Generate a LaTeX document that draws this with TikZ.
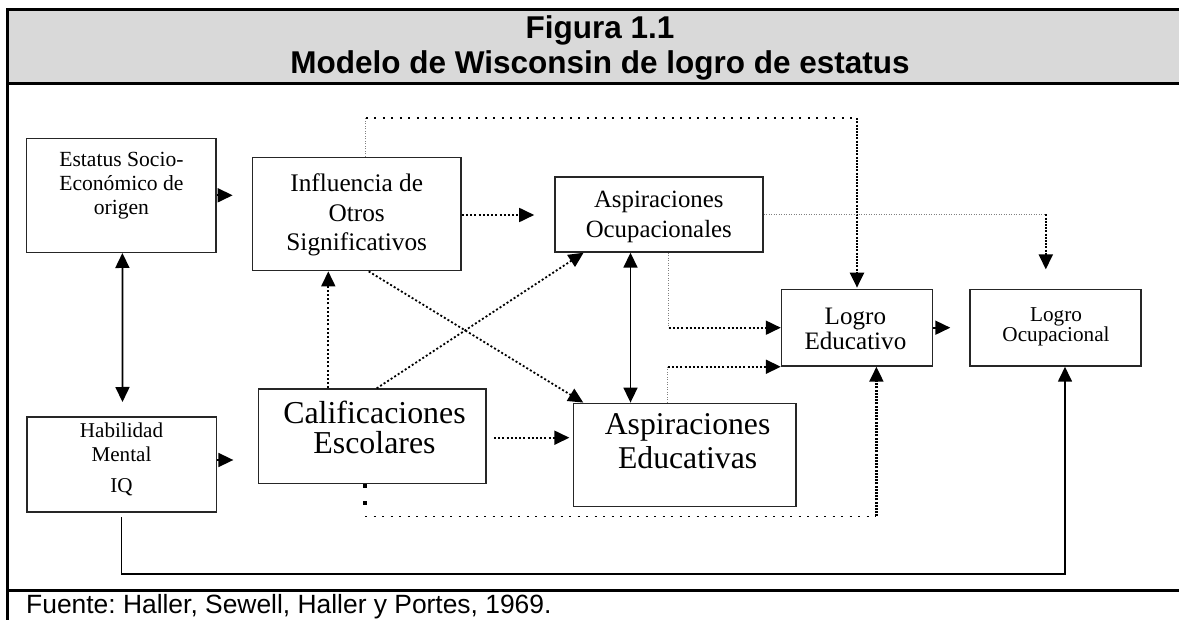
\documentclass[tikz,border=0pt]{standalone}
\usepackage{fontspec}
\setmainfont{Liberation Serif}
\newfontfamily\headfont{Liberation Sans}
\usetikzlibrary{arrows.meta}
\frenchspacing
\definecolor{headgray}{RGB}{217,217,217}
\tikzset{
  box/.style={draw=black!85, line width=1.4pt, inner sep=0pt},
  txt/.style={align=center, inner sep=0pt},
  tip/.style={-{Triangle[length=15pt,width=14pt]}},
  tips/.style={{Triangle[length=15pt,width=14pt]}-{Triangle[length=15pt,width=14pt]}},
  plainline/.style={line width=1.7pt},
  dotline/.style={line width=1.8pt, dash pattern=on 2pt off 2.2pt},
  sparseline/.style={line width=1.8pt, dash pattern=on 2pt off 6.5pt},
  denseline/.style={line width=2.2pt, dash pattern=on 2pt off 1.2pt},
  faintline/.style={line width=0.9pt, draw=black!50, dash pattern=on 0.9pt off 1.6pt},
  bigdots/.style={line width=4pt, dash pattern=on 4pt off 13pt},
}
\begin{document}
\begin{tikzpicture}[x=1pt,y=-1pt]
  \useasboundingbox (0,0) rectangle (1179,620);
  \fill[headgray] (7.4,9.3) rectangle (1185,83.5);
  \draw[line width=2.7pt] (1185,9.3) -| (7.4,625);
  \draw[line width=2.7pt] (7.4,83.5) -- (1185,83.5);
  \draw[line width=2.7pt] (7.4,590.5) -- (1185,590.5);
  \node[txt, font=\headfont\bfseries\fontsize{31.5}{35}\selectfont] (title) at (600,47.5) {Figura 1.1\\Modelo de Wisconsin de logro de estatus};
  \node[inner sep=0pt, anchor=base west, font=\headfont\fontsize{26.4}{30}\selectfont] (fuente) at (26,613) {Fuente: Haller, Sewell, Haller y Portes, 1969.};

  \node[box, minimum width=189.3pt, minimum height=114pt] (est) at (121.4,195.3) {};
  \node[box, minimum width=208.7pt, minimum height=113.4pt] (inf) at (356.7,214) {};
  \node[box, minimum width=208pt, minimum height=75pt] (asocup) at (658.9,214.5) {};
  \node[box, minimum width=151pt, minimum height=76.7pt] (logroed) at (857,327.7) {};
  \node[box, minimum width=171pt, minimum height=76.7pt] (logroocup) at (1055.5,327.7) {};
  \node[box, minimum width=189.4pt, minimum height=95pt] (hab) at (121.5,464.5) {};
  \node[box, minimum width=227.7pt, minimum height=94.3pt] (calif) at (372.2,436.2) {};
  \node[box, minimum width=222.7pt, minimum height=103.4pt] (asedu) at (684.7,455) {};

  \node[txt, font=\fontsize{21.6}{24.2}\selectfont] (est-t) at (121.4,185.9) {Estatus Socio-\\Económico de\\origen};
  \node[txt, font=\fontsize{25.3}{29.2}\selectfont] (inf-t) at (356.7,215) {Influencia de\\Otros\\Significativos};
  \node[txt, font=\fontsize{24.8}{30}\selectfont] (asocup-t) at (658.8,217.3) {Aspiraciones\\Ocupacionales};
  \node[txt, font=\fontsize{25.1}{25}\selectfont] (logroed-t) at (855.4,329.4) {Logro\\Educativo};
  \node[txt, font=\fontsize{21.2}{20}\selectfont] (logroocup-t) at (1056,327) {Logro\\Ocupacional};
  \node[txt, font=\fontsize{21.1}{24}\selectfont] (hab-t) at (121.5,459.6) {Habilidad\\Mental\\[7pt]IQ};
  \node[txt, font=\fontsize{31.9}{30}\selectfont] (calif-t) at (374.5,427.4) {Calificaciones\\Escolares};
  \node[txt, font=\fontsize{31.7}{33.3}\selectfont] (asedu-t) at (687.6,441.2) {Aspiraciones\\Educativas};

  \draw[plainline,tip,shorten >=19pt] (est.east) -- (est.east -| inf.west);
  \coordinate (h1) at ([yshift=4.5pt]hab.east);
  \draw[plainline,tip,shorten >=24.3pt] (h1) -- (h1 -| calif.west);
  \draw[plainline,tips,shorten >=14.3pt] ([xshift=1pt]est.south) -- ([xshift=1pt]hab.north);
  \draw[plainline,tips] ([xshift=-28.4pt]asocup.south) -- ([xshift=-54.2pt]asedu.north);
  \draw[plainline,tip,shorten >=19pt] (logroed) -- (logroocup);

  \coordinate (i1) at ([yshift=-1pt]inf.east);
  \draw[dotline,tip,shorten >=20pt] (i1) -- (i1 -| asocup.west);
  \coordinate (c1) at ([yshift=-1.5pt]calif.east);
  \draw[dotline,tip,shorten <=7.3pt,shorten >=3.3pt] (c1) -- (c1 -| asedu.west);
  \draw[dotline,tip] ([xshift=-43.9pt]calif.north) -- ([xshift=-28.4pt]inf.south);
  \draw[dotline,tip] ([xshift=12pt]inf.south) -- ([xshift=-101.4pt]asedu.north);
  \draw[dotline,tip] ([xshift=4.5pt]calif.north) -- ([xshift=-75.3pt]asocup.south);

  \draw[faintline] ([xshift=9.2pt]inf.north) -- ++(0,-38.3) coordinate (t1);
  \draw[sparseline] (t1) -- (t1 -| logroed.north) coordinate (t2);
  \draw[denseline,tip,shorten >=1pt] (t2) -- (logroed.north);

  \coordinate (o1) at ([xshift=-9.7pt]logroocup.north);
  \draw[faintline] (asocup.east) -- (asocup.east -| o1) coordinate (o2);
  \draw[denseline,tip,shorten >=19.3pt] (o2) -- (o1);

  \draw[faintline] ([xshift=9.8pt]asocup.south) coordinate (a1) -- (a1 |- logroed.west) coordinate (a2);
  \draw[dotline,tip] (a2) -- (logroed.west);
  \draw[faintline] ([xshift=-17pt]asedu.north) coordinate (e1) -- (e1 |- logroed.south west) coordinate (e2);
  \draw[dotline,tip] (e2) -- (logroed.south west);

  \draw[bigdots] ([xshift=-7.2pt]calif.south) -- ++(0,32.4) coordinate (b1);
  \coordinate (b2) at ([xshift=19.4pt]logroed.south);
  \draw[sparseline] (b1) -- (b1 -| b2) coordinate (b3);
  \draw[denseline,tip] (b3) -- (b2);

  \coordinate (h2) at ([xshift=9.5pt]logroocup.south);
  \draw[plainline,tip,shorten <=4.7pt] (hab.south) -- ++(0,61) -| (h2);
\end{tikzpicture}
\end{document}
